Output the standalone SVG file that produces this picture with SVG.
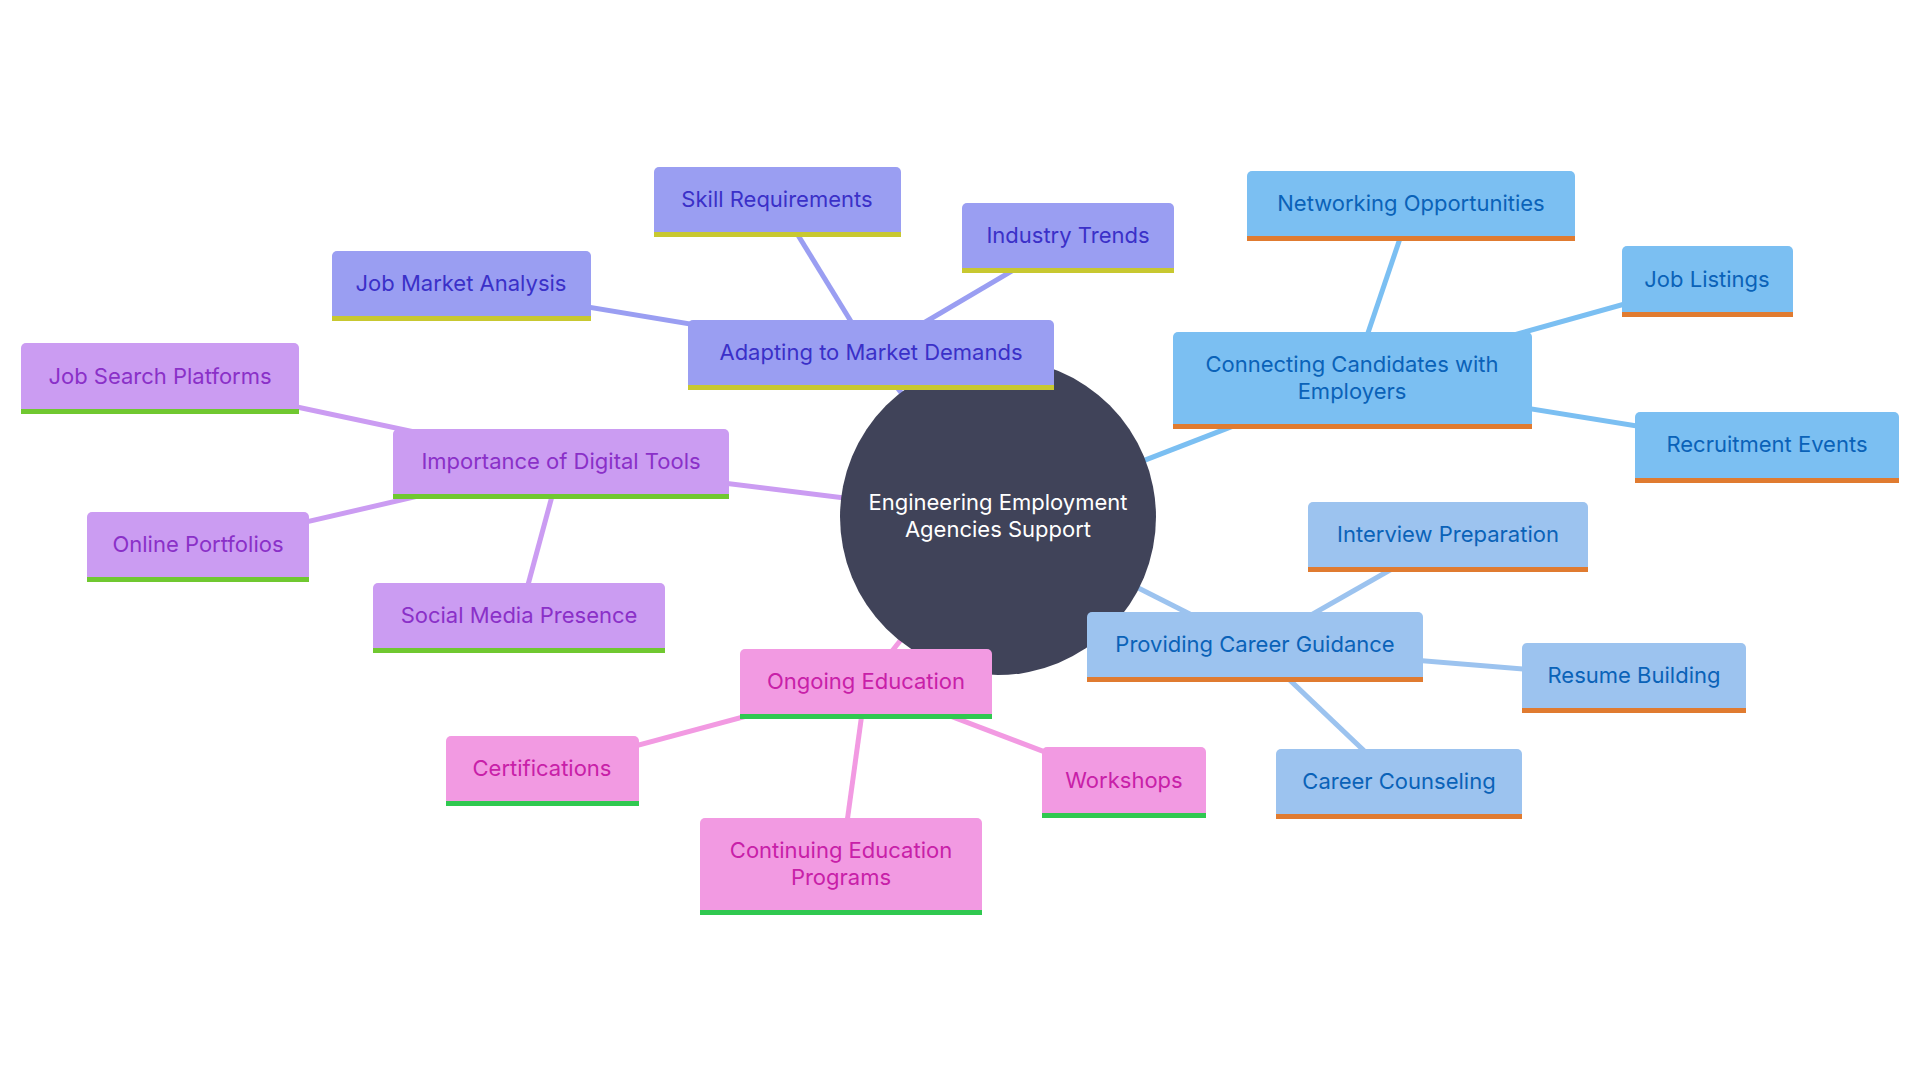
<svg xmlns="http://www.w3.org/2000/svg" width="1920" height="1080" viewBox="0 0 1920 1080">
<style>
text{font-family:Inter,"Open Sans",sans-serif;font-size:22px;text-anchor:middle;dominant-baseline:central}
.e{fill:none;stroke-width:5}
.b1 rect.n{fill:#7bbff2}.b1 text{fill:#0a62b8}.b1 rect.u{fill:#e07b30}
.b2 rect.n{fill:#9cc3ef}.b2 text{fill:#0a62b8}.b2 rect.u{fill:#e07b30}
.b3 rect.n{fill:#9a9ef2}.b3 text{fill:#3a30c8}.b3 rect.u{fill:#c8c830}
.b4 rect.n{fill:#cb9cf2}.b4 text{fill:#8a30c8}.b4 rect.u{fill:#70c830}
.b5 rect.n{fill:#f29ae2}.b5 text{fill:#c820a8}.b5 rect.u{fill:#30c850}
</style>
<rect width="1920" height="1080" fill="#fff"/>
<g id="connectors">
<g stroke="#9a9ef2" class="e"><line x1="998" y1="517" x2="871" y2="354"/><line x1="871" y1="354" x2="777" y2="201"/><line x1="871" y1="354" x2="1068" y2="238"/><line x1="871" y1="354" x2="461" y2="286"/></g>
<g stroke="#7bbff2" class="e"><line x1="998" y1="517" x2="1352" y2="380"/><line x1="1352" y1="380" x2="1411" y2="206"/><line x1="1352" y1="380" x2="1707" y2="281"/><line x1="1352" y1="380" x2="1767" y2="447"/></g>
<g stroke="#9cc3ef" class="e"><line x1="998" y1="517" x2="1255" y2="647"/><line x1="1255" y1="647" x2="1448" y2="537"/><line x1="1255" y1="647" x2="1634" y2="678"/><line x1="1255" y1="647" x2="1399" y2="784"/></g>
<g stroke="#cb9cf2" class="e"><line x1="998" y1="517" x2="561" y2="463"/><line x1="561" y1="463" x2="160" y2="378"/><line x1="561" y1="463" x2="198" y2="547"/><line x1="561" y1="463" x2="519" y2="618"/></g>
<g stroke="#f29ae2" class="e"><line x1="998" y1="517" x2="866" y2="684"/><line x1="866" y1="684" x2="542" y2="771"/><line x1="866" y1="684" x2="1124" y2="782"/><line x1="866" y1="684" x2="841" y2="866"/></g>
</g>
<g id="center"><circle cx="998" cy="517" r="158" fill="#404359"/><text x="998" y="502" fill="#fff">Engineering Employment</text><text x="998" y="529" fill="#fff">Agencies Support</text></g>
<g id="adapting" class="b3"><rect class="n" x="688" y="320" width="366" height="70" rx="5"/><rect class="u" x="688" y="385" width="366" height="5"/><text x="871" y="352">Adapting to Market Demands</text></g>
<g id="skill" class="b3"><rect class="n" x="654" y="167" width="247" height="70" rx="5"/><rect class="u" x="654" y="232" width="247" height="5"/><text x="777" y="199">Skill Requirements</text></g>
<g id="industry" class="b3"><rect class="n" x="962" y="203" width="212" height="70" rx="5"/><rect class="u" x="962" y="268" width="212" height="5"/><text x="1068" y="235">Industry Trends</text></g>
<g id="jobmarket" class="b3"><rect class="n" x="332" y="251" width="259" height="70" rx="5"/><rect class="u" x="332" y="316" width="259" height="5"/><text x="461" y="283">Job Market Analysis</text></g>
<g id="connecting" class="b1"><rect class="n" x="1173" y="332" width="359" height="97" rx="5"/><rect class="u" x="1173" y="424" width="359" height="5"/><text x="1352" y="364">Connecting Candidates with</text><text x="1352" y="391">Employers</text></g>
<g id="networking" class="b1"><rect class="n" x="1247" y="171" width="328" height="70" rx="5"/><rect class="u" x="1247" y="236" width="328" height="5"/><text x="1411" y="203">Networking Opportunities</text></g>
<g id="joblistings" class="b1"><rect class="n" x="1622" y="246" width="171" height="71" rx="5"/><rect class="u" x="1622" y="312" width="171" height="5"/><text x="1707" y="279">Job Listings</text></g>
<g id="recruitment" class="b1"><rect class="n" x="1635" y="412" width="264" height="71" rx="5"/><rect class="u" x="1635" y="478" width="264" height="5"/><text x="1767" y="444">Recruitment Events</text></g>
<g id="guidance" class="b2"><rect class="n" x="1087" y="612" width="336" height="70" rx="5"/><rect class="u" x="1087" y="677" width="336" height="5"/><text x="1255" y="644">Providing Career Guidance</text></g>
<g id="interview" class="b2"><rect class="n" x="1308" y="502" width="280" height="70" rx="5"/><rect class="u" x="1308" y="567" width="280" height="5"/><text x="1448" y="534">Interview Preparation</text></g>
<g id="resume" class="b2"><rect class="n" x="1522" y="643" width="224" height="70" rx="5"/><rect class="u" x="1522" y="708" width="224" height="5"/><text x="1634" y="675">Resume Building</text></g>
<g id="counseling" class="b2"><rect class="n" x="1276" y="749" width="246" height="70" rx="5"/><rect class="u" x="1276" y="814" width="246" height="5"/><text x="1399" y="781">Career Counseling</text></g>
<g id="digital" class="b4"><rect class="n" x="393" y="429" width="336" height="70" rx="5"/><rect class="u" x="393" y="494" width="336" height="5"/><text x="561" y="461">Importance of Digital Tools</text></g>
<g id="jobsearch" class="b4"><rect class="n" x="21" y="343" width="278" height="71" rx="5"/><rect class="u" x="21" y="409" width="278" height="5"/><text x="160" y="376">Job Search Platforms</text></g>
<g id="portfolios" class="b4"><rect class="n" x="87" y="512" width="222" height="70" rx="5"/><rect class="u" x="87" y="577" width="222" height="5"/><text x="198" y="544">Online Portfolios</text></g>
<g id="social" class="b4"><rect class="n" x="373" y="583" width="292" height="70" rx="5"/><rect class="u" x="373" y="648" width="292" height="5"/><text x="519" y="615">Social Media Presence</text></g>
<g id="ongoing" class="b5"><rect class="n" x="740" y="649" width="252" height="70" rx="5"/><rect class="u" x="740" y="714" width="252" height="5"/><text x="866" y="681">Ongoing Education</text></g>
<g id="certifications" class="b5"><rect class="n" x="446" y="736" width="193" height="70" rx="5"/><rect class="u" x="446" y="801" width="193" height="5"/><text x="542" y="768">Certifications</text></g>
<g id="workshops" class="b5"><rect class="n" x="1042" y="747" width="164" height="71" rx="5"/><rect class="u" x="1042" y="813" width="164" height="5"/><text x="1124" y="780">Workshops</text></g>
<g id="continuing" class="b5"><rect class="n" x="700" y="818" width="282" height="97" rx="5"/><rect class="u" x="700" y="910" width="282" height="5"/><text x="841" y="850">Continuing Education</text><text x="841" y="877">Programs</text></g>
</svg>
